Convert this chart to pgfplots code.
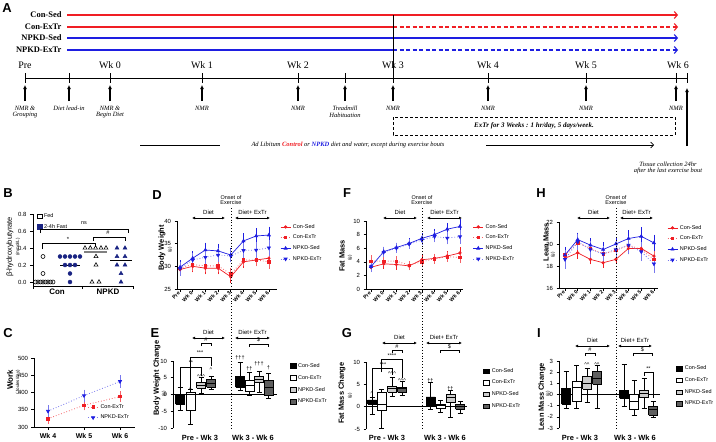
\documentclass[border=0pt]{standalone}
\usepackage{pgfplots}
\pgfplotsset{compat=1.18}
\usetikzlibrary{arrows.meta}
\usepackage{fontspec}
\setmainfont{Liberation Sans}
\newfontfamily\tnr{Liberation Serif}
\newcommand{\fs}[1]{\fontsize{#1}{#1}\selectfont}
\definecolor{gpR}{RGB}{240,30,36}
\definecolor{gpB}{RGB}{30,30,225}
\definecolor{navy}{RGB}{25,35,130}
\definecolor{lgray}{RGB}{205,205,205}
\definecolor{dgray}{RGB}{95,95,95}
\pgfplotsset{
  gp/.style={scale only axis, anchor=south west, axis x line*=bottom, axis y line*=left,
    tick align=outside, major tick length=2.5bp, tick style={black, line width=0.6bp},
    axis line style={line width=0.7bp, black}, tick label style={font=\fs{6}},
    /pgf/number format/assume math mode=true, clip=false},
  rotx/.style={x tick label style={rotate=45, anchor=east, inner sep=1bp, font=\bfseries\fs{5.3}}, xtick={0,...,7},
    xticklabels={Pre,Wk 0,Wk 1,Wk 2,Wk 3,Wk 4,Wk 5,Wk 6}},
  leg/.style={legend style={anchor=north west, draw=none, fill=none, font=\fs{5.5}, inner sep=0pt, row sep=1.3bp, cells={anchor=west}}},
  ebar/.style={error bars/.cd, y dir=both, y explicit, error bar style={line width=0.6bp, solid}, error mark options={mark size=1.6bp, line width=0.6bp, solid}},
  pCS/.style={gpR, line width=0.7bp, mark=*, mark size=1.3bp, mark options={solid}, ebar},
  pCE/.style={gpR!70, dotted, line width=0.8bp, mark=square*, mark size=1.2bp, mark options={solid, gpR}, ebar},
  pNS/.style={gpB, line width=0.7bp, mark=triangle*, mark size=1.7bp, mark options={solid}, ebar},
  pNE/.style={gpB!60, dotted, line width=0.8bp, mark=triangle*, mark size=1.7bp, mark options={solid, gpB, rotate=180}, ebar},
  bl/.style={black, line width=0.6bp, forget plot, mark=none},
}
% box: #1 position, #2 lower whisker, #3 lower quartile, #4 median, #5 upper quartile, #6 upper whisker, #7 fill
\newcommand{\bx}[7]{%
  \pgfmathsetmacro\xa{#1-4.5}\pgfmathsetmacro\xb{#1+4.5}%
  \pgfmathsetmacro\ca{#1-2.5}\pgfmathsetmacro\cb{#1+2.5}%
  \addplot[bl] coordinates {(#1,#2) (#1,#6)};
  \addplot[bl] coordinates {(\ca,#2) (\cb,#2)};
  \addplot[bl] coordinates {(\ca,#6) (\cb,#6)};
  \addplot[bl, fill=#7] coordinates {(\xa,#3) (\xb,#3) (\xb,#5) (\xa,#5) (\xa,#3)};
  \addplot[bl, line width=0.8bp] coordinates {(\xa,#4) (\xb,#4)};
}
\newcommand{\boxleg}{\addlegendimage{fill=black}\addlegendimage{fill=white}\addlegendimage{fill=lgray}\addlegendimage{fill=dgray}\legend{Con-Sed,Con-ExTr,NPKD-Sed,NPKD-ExTr}}
\begin{document}
\begin{tikzpicture}
\useasboundingbox (0bp,0bp) rectangle (716bp,-442bp);
% ================= B =================
\begin{axis}[gp, at={(33bp,-286bp)}, width=100bp, height=72bp, xmin=33, xmax=133, ymin=-0.0471, ymax=0.8,
  ytick={0,0.2,0.4,0.6,0.8}, yticklabel style={/pgf/number format/.cd, fixed, fixed zerofill, precision=1},
  xtick={33,82,133}, xticklabels={}, major tick length=3bp, x tick style={line width=0.7bp},
  leg, legend style={at={(0.04,1.04)}}, legend image code/.code={\draw[#1, line width=0.5bp] (0bp,-2.2bp) rectangle (4.4bp,2.2bp);}]
\addplot[only marks, mark=o, mark size=2bp, black, line width=0.6bp, forget plot] coordinates {
 (35.5,0) (38,0) (40.5,0) (43,0) (45.5,0) (48,0) (50.5,0) (53,0) (43,0.1) (43,0.3)};
\addplot[only marks, mark=*, mark size=2bp, navy, forget plot] coordinates {
 (60,0.3) (65,0.3) (70,0.3) (75,0.3) (80,0.3) (65,0.2) (70,0.2) (75,0.2) (70,0.1) (70,0)};
\addplot[only marks, mark=triangle, mark size=2.3bp, black, line width=0.6bp, forget plot] coordinates {
 (85,0.4) (90.3,0.4) (95.6,0.4) (101,0.4) (106,0.4) (96,0.3) (96,0.2) (92,0) (99,0)};
\addplot[only marks, mark=triangle*, mark size=2.3bp, navy, forget plot] coordinates {
 (117,0.4) (125,0.4) (117,0.3) (125,0.3) (117,0.2) (125,0.2) (121,0.1) (121,0)};
\addplot[black, line width=0.8bp, forget plot] coordinates {(60,0.2) (80,0.2)};
\addplot[gray, line width=1.4bp, forget plot] coordinates {(84,0.355) (107,0.355)};
\addplot[black, line width=0.8bp, forget plot] coordinates {(110,0.25) (132,0.25)};
\addlegendimage{draw=black, fill=white}
\addlegendimage{draw=navy, fill=navy}
\legend{Fed, 2-4h Fast}
\end{axis}
% ================= C =================
\begin{axis}[gp, at={(34bp,-427bp)}, width=101bp, height=69bp, xmin=34, xmax=135, ymin=300, ymax=500,
  ytick={300,350,...,500}, xtick={48,84,120}, xticklabels={Wk 4,Wk 5,Wk 6}, x tick label style={font=\bfseries\fs{7}},
  leg, legend style={at={(0.53,0.36)}},
  legend image code/.code={\draw[mark repeat=2, mark phase=2, #1] plot coordinates {(0bp,0bp) (5bp,0bp) (10bp,0bp)};}]
\addplot[pCE] coordinates {(48,324) +- (0,10) (84,363) +- (0,10) (120,388) +- (0,12)};
\addplot[pNE] coordinates {(48,346) +- (0,12) (84,391) +- (0,13) (120,432) +- (0,14)};
\legend{Con-ExTr, NPKD-ExTr}
\end{axis}
% ================= D =================
\begin{axis}[gp, rotx, at={(177bp,-289bp)}, width=100bp, height=68bp, xmin=-0.236, xmax=7.64, ymin=25, ymax=40, ytick={25,30,35,40},
  leg, legend style={at={(1.03,0.985)}},
  legend image code/.code={\draw[mark repeat=2, mark phase=2, #1] plot coordinates {(0bp,0bp) (5bp,0bp) (10bp,0bp)};}]
\addplot[pCS] coordinates {(0,29.3)+-(0,1.0) (1,30.0)+-(0,1.0) (2,29.6)+-(0,1.0) (3,29.6)+-(0,1.0) (4,27.7)+-(0,1.0) (5,31.0)+-(0,1.0) (6,31.4)+-(0,1.0) (7,31.8)+-(0,1.1)};
\addplot[pCE] coordinates {(0,29.6)+-(0,1.0) (1,30.4)+-(0,1.0) (2,30.1)+-(0,1.0) (3,30.1)+-(0,1.0) (4,28.3)+-(0,1.0) (5,31.4)+-(0,1.0) (6,31.4)+-(0,1.0) (7,31.0)+-(0,1.2)};
\addplot[pNS] coordinates {(0,29.8)+-(0,1.2) (1,31.8)+-(0,1.2) (2,33.6)+-(0,1.3) (3,33.4)+-(0,1.2) (4,32.5)+-(0,1.1) (5,35.6)+-(0,1.3) (6,36.7)+-(0,1.4) (7,36.9)+-(0,1.5)};
\addplot[pNE] coordinates {(0,29.5)+-(0,1.2) (1,31.4)+-(0,1.2) (2,32.0)+-(0,1.3) (3,32.5)+-(0,1.2) (4,32.3)+-(0,1.1) (5,33.5)+-(0,1.3) (6,33.6)+-(0,1.4) (7,34.1)+-(0,1.4)};
\legend{Con-Sed, Con-ExTr, NPKD-Sed, NPKD-ExTr}
\end{axis}
% ================= E =================
\begin{axis}[gp, axis x line*=middle, at={(173bp,-428bp)}, width=104bp, height=67bp, xmin=173, xmax=277, ymin=-10, ymax=10,
  ytick={-10,-5,0,5,10}, xtick=\empty, leg, legend style={at={(1.12,1.0)}, row sep=2.6bp},
  legend image code/.code={\draw[#1, line width=0.5bp] (0bp,-2.2bp) rectangle (6bp,2.2bp);}]
\bx{180}{-4.7}{-2.9}{-1.5}{0}{2.2}{black}
\bx{190.5}{-8.8}{-4.6}{0}{0.7}{1.6}{white}
\bx{201}{0.5}{1.9}{2.8}{3.7}{5.0}{lgray}
\bx{211}{1.6}{2.2}{3.4}{4.6}{5.5}{dgray}
\bx{240}{1.3}{2.2}{3.5}{5.5}{9.7}{black}
\bx{249.5}{-0.1}{1.0}{2.8}{4.3}{6.7}{white}
\bx{259}{0.8}{3.7}{4.6}{5.5}{7.0}{lgray}
\bx{268.5}{-1.0}{-0.1}{2.0}{4.3}{6.3}{dgray}
\boxleg
\end{axis}
% ================= F =================
\begin{axis}[gp, rotx, at={(366bp,-289bp)}, width=97bp, height=68bp, xmin=-0.394, xmax=7.24, ymin=0, ymax=10, ytick={0,2,...,10},
  leg, legend style={at={(1.1,0.985)}},
  legend image code/.code={\draw[mark repeat=2, mark phase=2, #1] plot coordinates {(0bp,0bp) (5bp,0bp) (10bp,0bp)};}]
\addplot[pCS] coordinates {(0,3.2)+-(0,0.5) (1,3.7)+-(0,0.5) (2,3.6)+-(0,0.5) (3,3.4)+-(0,0.4) (4,4.3)+-(0,0.5) (5,4.5)+-(0,0.4) (6,4.85)+-(0,0.5) (7,5.3)+-(0,0.6)};
\addplot[pCE] coordinates {(0,4.1)+-(0,0.6) (1,4.1)+-(0,0.5) (2,4.1)+-(0,0.5) (3,3.5)+-(0,0.4) (4,4.0)+-(0,0.5) (5,4.45)+-(0,0.5) (6,4.75)+-(0,0.5) (7,4.65)+-(0,0.6)};
\addplot[pNS] coordinates {(0,3.3)+-(0,0.5) (1,5.5)+-(0,0.5) (2,6.1)+-(0,0.5) (3,6.7)+-(0,0.5) (4,7.45)+-(0,0.5) (5,8.0)+-(0,0.6) (6,8.8)+-(0,0.7) (7,9.2)+-(0,0.8)};
\addplot[pNE] coordinates {(0,3.3)+-(0,0.5) (1,5.4)+-(0,0.5) (2,6.0)+-(0,0.5) (3,6.6)+-(0,0.5) (4,7.2)+-(0,0.5) (5,7.7)+-(0,0.6) (6,7.5)+-(0,0.7) (7,7.7)+-(0,0.8)};
\legend{Con-Sed, Con-ExTr, NPKD-Sed, NPKD-ExTr}
\end{axis}
% ================= G =================
\begin{axis}[gp, axis x line*=middle, at={(366bp,-429bp)}, width=101bp, height=67bp, xmin=366, xmax=467, ymin=-5, ymax=10,
  ytick={-5,0,5,10}, xtick=\empty, leg, legend style={at={(1.16,0.94)}, row sep=2.3bp},
  legend image code/.code={\draw[#1, line width=0.5bp] (0bp,-2.2bp) rectangle (6bp,2.2bp);}]
\bx{372}{-1.6}{0.6}{1.0}{1.5}{2.2}{black}
\bx{381.5}{-4.8}{-0.9}{0.6}{3.2}{3.9}{white}
\bx{392}{2.4}{3.2}{4.0}{4.6}{6.5}{lgray}
\bx{402}{2.6}{3.2}{4.1}{4.4}{5.6}{dgray}
\bx{430.5}{-0.7}{0.0}{1.0}{2.2}{5.4}{black}
\bx{440.5}{-1.3}{-0.4}{0.3}{0.6}{1.5}{white}
\bx{450.5}{-2.4}{1.0}{2.0}{2.8}{3.6}{lgray}
\bx{460}{-1.5}{-0.6}{0.0}{0.5}{1.3}{dgray}
\boxleg
\end{axis}
% ================= H =================
\begin{axis}[gp, rotx, at={(559bp,-288bp)}, width=99bp, height=66bp, xmin=-0.472, xmax=7.32, ymin=16, ymax=22, ytick={16,18,20,22},
  leg, legend style={at={(1.09,0.985)}},
  legend image code/.code={\draw[mark repeat=2, mark phase=2, #1] plot coordinates {(0bp,0bp) (5bp,0bp) (10bp,0bp)};}]
\addplot[pCS] coordinates {(0,18.7)+-(0,0.4) (1,19.2)+-(0,0.4) (2,18.6)+-(0,0.3) (3,18.3)+-(0,0.3) (4,18.6)+-(0,0.3) (5,19.6)+-(0,0.4) (6,19.6)+-(0,0.4) (7,18.9)+-(0,0.5)};
\addplot[pCE] coordinates {(0,19.0)+-(0,0.5) (1,20.1)+-(0,0.5) (2,19.6)+-(0,0.5) (3,19.1)+-(0,0.5) (4,19.4)+-(0,0.5) (5,19.9)+-(0,0.6) (6,19.5)+-(0,0.6) (7,18.6)+-(0,0.6)};
\addplot[pNS] coordinates {(0,19.0)+-(0,0.6) (1,20.4)+-(0,0.5) (2,19.9)+-(0,0.5) (3,19.5)+-(0,0.5) (4,20.0)+-(0,0.5) (5,20.5)+-(0,0.6) (6,20.7)+-(0,0.7) (7,20.1)+-(0,0.6)};
\addplot[pNE] coordinates {(0,18.6)+-(0,0.7) (1,20.2)+-(0,0.6) (2,19.5)+-(0,0.6) (3,19.1)+-(0,0.6) (4,19.5)+-(0,0.6) (5,19.9)+-(0,0.7) (6,19.3)+-(0,0.7) (7,18.2)+-(0,0.7)};
\legend{Con-Sed, Con-ExTr, NPKD-Sed, NPKD-ExTr}
\end{axis}
% ================= I =================
\begin{axis}[gp, axis x line*=middle, at={(559bp,-428bp)}, width=101bp, height=67bp, xmin=559, xmax=660, ymin=-3, ymax=3,
  ytick={-3,...,3}, xtick=\empty, leg, legend style={at={(1.16,0.96)}, row sep=2.3bp},
  legend image code/.code={\draw[#1, line width=0.5bp] (0bp,-2.2bp) rectangle (6bp,2.2bp);}]
\bx{566}{-1.25}{-0.87}{-0.2}{0.55}{2.1}{black}
\bx{576.5}{-1.25}{-0.57}{0.6}{1.2}{2.6}{white}
\bx{587}{-0.7}{0.45}{1.0}{1.65}{2.35}{lgray}
\bx{597}{-1.25}{0.9}{1.4}{2.1}{2.6}{dgray}
\bx{624}{-1.1}{-0.35}{0.1}{0.4}{2.7}{black}
\bx{634}{-1.85}{-1.35}{-0.65}{0.0}{1.3}{white}
\bx{644}{-1.25}{-0.27}{0.1}{0.4}{1.43}{lgray}
\bx{653}{-2.05}{-1.85}{-1.35}{-1.05}{-0.6}{dgray}
\boxleg
\end{axis}
% ================= manual drawing (pixel coordinates, y down) =================
\begin{scope}[x=1bp,y=-1bp]
% ---- A ----
\node[font=\bfseries\fs{13}] at (7,8) {A};
\begin{scope}[font=\tnr\bfseries\fs{8.5}]
\node[anchor=east] at (65,15) {Con-Sed};
\node[anchor=east] at (65,27) {Con-ExTr};
\node[anchor=east] at (65,38) {NPKD-Sed};
\node[anchor=east] at (65,50) {NPKD-ExTr};
\end{scope}
\tikzset{barb/.style={-{Straight Barb[length=3bp,width=7bp]}}}
\draw[gpR, line width=1.1bp, barb] (67,15) -- (678,15);
\draw[gpR, line width=1.1bp] (67,27) -- (393,27);
\draw[gpR, line width=1.1bp, dash pattern=on 4bp off 2.5bp, barb] (393,27) -- (678,27);
\draw[gpB, line width=1.1bp, barb] (67,38) -- (678,38);
\draw[gpB, line width=1.1bp] (67,50) -- (393,50);
\draw[gpB, line width=1.1bp, dash pattern=on 4bp off 2.5bp, barb] (393,50) -- (678,50);
\draw[line width=0.8bp] (393,15) -- (393,78);
\draw[line width=1bp] (25,78) -- (687,78);
\foreach \x in {25,69,110,202,298,345,393,488,586,676,687} \draw[line width=1bp] (\x,73) -- (\x,83);
\foreach \x in {25,69,110,202,298,345,393,488,586,676} \draw[line width=1.1bp, -{Latex[length=4bp,width=4bp]}] (\x,101) -- (\x,85);
\begin{scope}[font=\tnr\fs{10}]
\node at (25,65) {Pre};
\node at (110,65) {Wk 0};
\node at (202,65) {Wk 1};
\node at (298,65) {Wk 2};
\node at (393,65) {Wk 3};
\node at (488,65) {Wk 4};
\node at (586,65) {Wk 5};
\node at (678,65) {Wk 6};
\end{scope}
\begin{scope}[font=\tnr\itshape\fs{6.5}]
\node[align=center] at (25,112) {NMR \&\\Grouping};
\node at (69,108) {Diet lead-in};
\node[align=center] at (110,112) {NMR \&\\Begin Diet};
\node at (202,108) {NMR};
\node at (298,108) {NMR};
\node[align=center] at (345,112) {Treadmill\\Habituation};
\node at (393,108) {NMR};
\node at (488,108) {NMR};
\node at (586,108) {NMR};
\node at (676,108) {NMR};
\node at (348,145) {Ad Libitum {\bfseries\color{gpR}Control} or {\bfseries\color{gpB}NPKD} diet and water, except during exercise bouts};
\node[align=center] at (668,168) {Tissue collection 24hr\\after the last exercise bout};
\end{scope}
\draw[line width=0.9bp, dash pattern=on 3bp off 2bp] (393,117) rectangle (675,135);
\node[font=\tnr\bfseries\itshape\fs{7}] at (534,126) {ExTr for 3 Weeks : 1 hr/day, 5 days/week.};
\draw[line width=0.7bp] (140,145) -- (220,145);
\draw[line width=0.7bp, -{Straight Barb[length=3bp,width=6bp]}] (486,145) -- (654,145);
\draw[line width=1.1bp, -{Latex[length=4bp,width=4bp]}] (687,146) -- (687,88);
% ---- panel letters ----
\begin{scope}[font=\bfseries\fs{13}]
\node at (8,193) {B};
\node at (8,333) {C};
\node at (157,195) {D};
\node at (155,333) {E};
\node at (347,193) {F};
\node at (347,333) {G};
\node at (541,193) {H};
\node at (539,333) {I};
\end{scope}
% ---- B annotations ----
\begin{scope}[line width=0.6bp]
\draw (40,233) -- (40,229) -- (128,229) -- (128,233);
\draw (42,249) -- (42,243) -- (95,243) -- (95,247);
\draw (93,241) -- (93,237) -- (125,237) -- (125,241);
\end{scope}
\node[font=\fs{5.5}] at (84,223) {ns};
\node[font=\fs{6}] at (68,239) {*};
\node[font=\fs{5.5}] at (108,233) {\#};
\node[font=\bfseries\fs{8}] at (57,292) {Con};
\node[font=\bfseries\fs{8}] at (108,292) {NPKD};
\node[rotate=90, font=\fs{7.5}] at (10,247) {β-hydroxybutyrate};
\node[rotate=90, font=\fs{4.5}] at (18,247) {(mmol/L)};
% ---- C ----
\node[rotate=90, font=\bfseries\fs{8}] at (10,380) {Work};
\node[rotate=90, font=\fs{4.5}] at (18,382) {(Joules/day)};
% ---- D / E ----
\node[rotate=90, font=\bfseries\fs{7.5}] at (162,248) {Body Weight};
\node[rotate=90, font=\fs{4.5}] at (170,250) {(g)};
\node[rotate=90, font=\bfseries\fs{7.5}] at (157,378) {Body Weight Change};
\node[rotate=90, font=\fs{4.5}] at (164,394) {(g)};
\node[font=\bfseries\fs{7.5}] at (200,438) {Pre - Wk 3};
\node[font=\bfseries\fs{7.5}] at (253,438) {Wk 3 - Wk 6};
\begin{scope}[line width=0.6bp, font=\fs{5.5}]
\draw (180,388) -- (180,367) -- (201,367) -- (201,376);
\node at (191,363) {**};
\draw (190.5,390) -- (190.5,357) -- (211,357) -- (211,366);
\node at (200,353) {***};
\draw (201,346) -- (201,343) -- (211,343) -- (211,346);
\node at (206,340) {\#};
\draw (249,347) -- (249,344) -- (268,344) -- (268,347);
\node at (258.5,340) {\$};
\node at (190.5,390) {\^{}};
\node at (201,377) {\^{}\^{}\^{}};
\node at (211,370) {\^{}};
\node at (240,358) {†††};
\node at (249.5,369) {††};
\node at (259,364) {†††};
\node at (268.5,368) {†};
\end{scope}
% ---- F / G ----
\node[rotate=90, font=\bfseries\fs{7.5}] at (342,256) {Fat Mass};
\node[rotate=90, font=\fs{4.5}] at (350,258) {(g)};
\node[rotate=90, font=\bfseries\fs{7.5}] at (342,393) {Fat Mass Change};
\node[rotate=90, font=\fs{4.5}] at (350,396) {(g)};
\node[font=\bfseries\fs{7.5}] at (387,438) {Pre - Wk 3};
\node[font=\bfseries\fs{7.5}] at (445,438) {Wk 3 - Wk 6};
\begin{scope}[line width=0.6bp, font=\fs{5.5}]
\draw (372,397) -- (372,368) -- (392,368) -- (392,375);
\node at (383,364.5) {***};
\draw (381.5,372) -- (381.5,359) -- (402,359) -- (402,378);
\node at (392,355.5) {****};
\draw (392,353) -- (392,350) -- (402,350) -- (402,353);
\node at (397,346.5) {\#};
\draw (440,353) -- (440,350) -- (459,350) -- (459,353);
\node at (449.5,346.5) {\$};
\node at (372,394) {\^{}};
\node at (392,374) {\^{}\^{}\^{}};
\node at (402,381) {\^{}\^{}\^{}};
\node at (430.5,381) {††};
\node at (450.5,389) {††};
\end{scope}
% ---- H / I ----
\node[rotate=90, font=\bfseries\fs{7.5}] at (546,242) {Lean Mass};
\node[rotate=90, font=\fs{4.5}] at (553,255) {(g)};
\node[rotate=90, font=\bfseries\fs{7.5}] at (542,397) {Lean Mass Change};
\node[rotate=90, font=\fs{4.5}] at (548,394) {(g)};
\node[font=\bfseries\fs{7.5}] at (580,438) {Pre - Wk 3};
\node[font=\bfseries\fs{7.5}] at (635,438) {Wk 3 - Wk 6};
\begin{scope}[line width=0.6bp, font=\fs{5.5}]
\draw (585,356) -- (585,353) -- (595,353) -- (595,356);
\node at (590,350) {\#};
\draw (633,356) -- (633,353) -- (652,353) -- (652,356);
\node at (642.5,350) {\$};
\draw (644,376) -- (644,372) -- (653,372) -- (653,398);
\node at (648.5,369) {**};
\node at (587,365) {\^{}\^{}};
\node at (597,365) {\^{}\^{}};
\end{scope}
% ---- onset / diet arrows ----
\foreach \xo in {231,422,616} {
  \node[font=\fs{5.5}, align=center] at (\xo,200) {Onset of\\Exercise};
  \draw[line width=0.9bp, dotted] (\xo,208) -- (\xo,430);
}
\tikzset{dar/.style={line width=0.6bp, {Latex[length=3bp,width=3bp]}-{Latex[length=3bp,width=3bp]}}}
\foreach \xl/\xr/\y in {192/225/218, 383/417/218, 577/610/218, 192/225/338, 382/417/343, 575/610/346} {
  \draw[dar] (\xl,\y) -- (\xr,\y);
  \node[font=\fs{6}] at ({(\xl+\xr)/2},\y-5.5) {Diet};
}
\foreach \xl/\xr/\y in {235/270/218, 427/462/218, 620/653/218, 235/270/338, 426/462/343, 618/652/346} {
  \draw[dar] (\xl,\y) -- (\xr,\y);
  \node[font=\fs{6}] at ({(\xl+\xr)/2},\y-5.5) {Diet+ ExTr};
}
\end{scope}
\end{tikzpicture}
\end{document}
